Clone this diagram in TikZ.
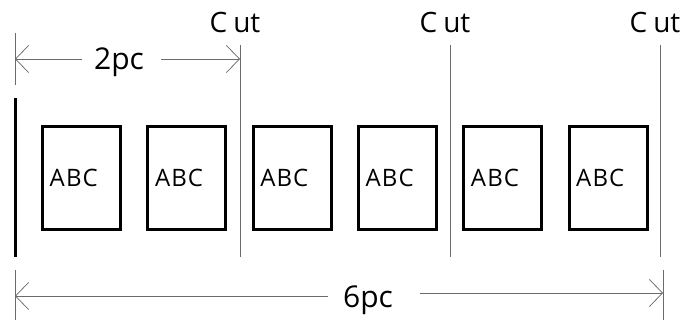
\documentclass[tikz,border=0pt]{standalone}
\usepackage{fontspec}
\setmainfont{Open Sans}
\usetikzlibrary{arrows.meta}
\begin{document}
\begin{tikzpicture}[x=1pt,y=-1pt,
  dimline/.style={draw=black!58, line width=0.75pt},
  barb/.style={-{Straight Barb[length=13pt,width=27pt,line width=0.75pt]}},
  pagebox/.style={draw=black, line width=3pt, minimum width=78pt, minimum height=103pt, inner sep=0pt},
  abc/.style={inner sep=0pt, anchor=base west, font=\fontsize{24}{28}\selectfont},
  cutlbl/.style={inner sep=0pt, anchor=base, font=\fontsize{28}{32}\selectfont},
  dimlbl/.style={inner sep=0pt, anchor=base, font=\fontsize{30}{34}\selectfont},
  bar/.style={draw=black, line width=3pt}
]
\useasboundingbox (0,0) rectangle (685,320);
% left thick bar
\coordinate (barT) at (15,98);
\coordinate (barB) at (15,257);
\draw[bar] (barT) -- (barB);
% top-left tick
\coordinate (tickT) at (15,33);
\coordinate (tickB) at (15,85);
\draw[dimline] (tickT) -- (tickB);
% cut lines and labels
\foreach \x [count=\i] in {240,450,660} {
  \coordinate (cutT\i) at (\x,45);
  \coordinate (cutB\i) at (\x,257);
  \draw[dimline] (cutT\i) -- (cutB\i);
  \node[cutlbl] (cutlbl\i) at (\x-5,33) {C\kern6pt ut};
}
% boxes
\foreach \cx [count=\i] in {81.5,186.8,292.1,397.4,502.7,608} {
  \node[pagebox] (b\i) at (\cx,178) {};
  \node[abc] (t\i) at ([xshift=8.5pt,yshift=-9pt]b\i.west) {A\kern1.2pt B\kern1pt C};
}
% 2pc dimension
\node[dimlbl] (l2) at (119,70) {2pc};
\coordinate (a2L) at (15,59);
\coordinate (g2L) at (82,59);
\coordinate (g2R) at (161,59);
\coordinate (a2R) at (240,59);
\draw[dimline,barb] (g2L) -- (a2L);
\draw[dimline,barb] (g2R) -- (a2R);
% 6pc dimension
\coordinate (t6LT) at (15,270);
\coordinate (t6LB) at (15,320);
\coordinate (t6RT) at (663,270);
\coordinate (t6RB) at (663,320);
\draw[dimline] (t6LT) -- (t6LB);
\draw[dimline] (t6RT) -- (t6RB);
\node[dimlbl] (l6) at (368,307) {6pc};
\coordinate (a6L) at (15,296);
\coordinate (g6L) at (328,296);
\coordinate (g6R) at (420,293);
\coordinate (a6R) at (663,293);
\draw[dimline,barb] (g6L) -- (a6L);
\draw[dimline,barb] (g6R) -- (a6R);
\end{tikzpicture}
\end{document}
